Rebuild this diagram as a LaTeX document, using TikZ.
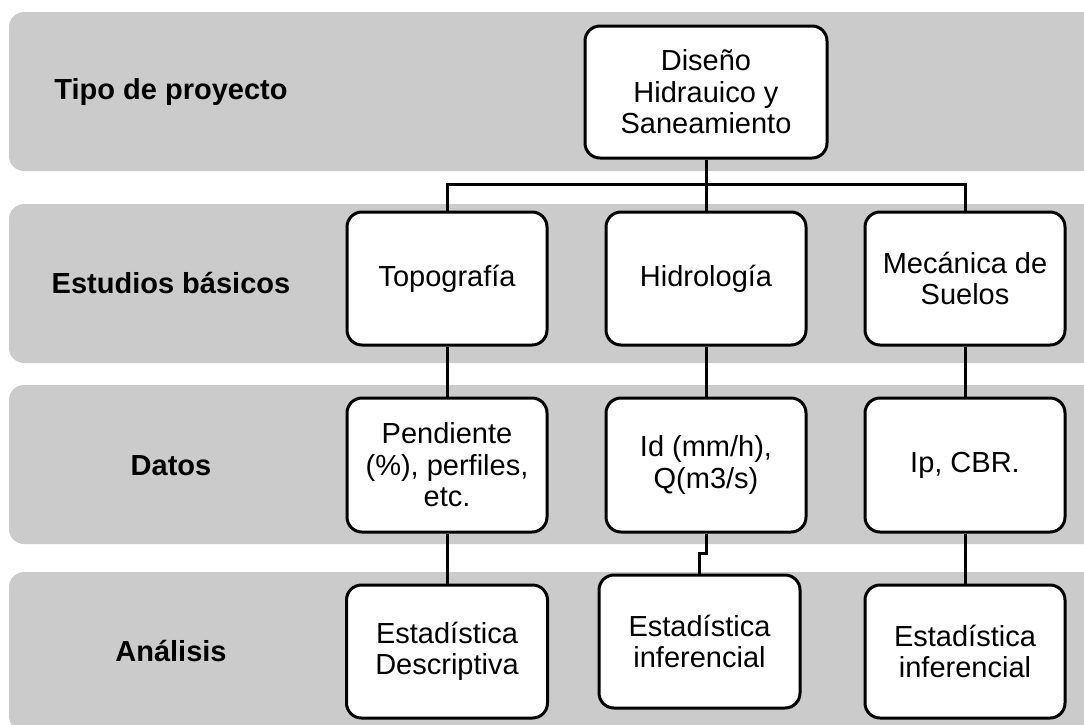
\documentclass[tikz,border=0pt]{standalone}
\usepackage{fontspec}
\setmainfont{Liberation Sans}
\definecolor{bandgray}{HTML}{CBCBCB}
\begin{document}
\begin{tikzpicture}[x=1pt,y=-1pt,
  band/.style={fill=bandgray,draw=none,rounded corners=15pt},
  rowlabel/.style={font=\fontsize{29}{33}\selectfont\bfseries,anchor=center},
  item/.style={draw=black,line width=3pt,fill=white,rounded corners=15pt,
    align=center,inner sep=4pt,font=\fontsize{29}{31.5}\selectfont},
  link/.style={draw=black,line width=3pt}]
  \useasboundingbox (0,0) rectangle (1084,724);
  \clip (0,0) rectangle (1084,724);

  % horizontal bands
  \fill[band] (9,12) rectangle (1110,171);
  \fill[band] (9,204) rectangle (1110,363);
  \fill[band] (9,385) rectangle (1110,544);
  \fill[band] (9,572) rectangle (1110,731);

  % row labels
  \node[rowlabel] (l1) at (171,92) {Tipo de proyecto};
  \node[rowlabel] (l2) at (171,283) {Estudios básicos};
  \node[rowlabel] (l3) at (171,466) {Datos};
  \node[rowlabel] (l4) at (171,651) {Análisis};

  % project type
  \node[item,minimum width=242pt,minimum height=132pt] (top) at (706,92)
    {Diseño\\Hidrauico y\\Saneamiento};

  % basic studies
  \node[item,minimum width=200pt,minimum height=133pt] (s1) at (447,278.5) {Topografía};
  \node[item,minimum width=200pt,minimum height=133pt] (s2) at (706,278.5) {Hidrología};
  \node[item,minimum width=200pt,minimum height=133pt] (s3) at (965,278.5) {Mecánica de\\Suelos};

  % data
  \node[item,minimum width=200pt,minimum height=134pt] (d1) at (447,465) {Pendiente\\(\%), perfiles,\\etc.};
  \node[item,minimum width=200pt,minimum height=134pt] (d2) at (706,465) {Id (mm/h),\\Q(m3/s)};
  \node[item,minimum width=200pt,minimum height=134pt] (d3) at (965,465) {Ip, CBR.};

  % analysis
  \node[item,minimum width=201pt,minimum height=133pt] (a1) at (447,651.5) {Estadística\\Descriptiva};
  \node[item,minimum width=201pt,minimum height=133pt] (a2) at (699.5,641.5) {Estadística\\inferencial};
  \node[item,minimum width=200pt,minimum height=133pt] (a3) at (965,651.5) {Estadística\\inferencial};

  % connectors
  \coordinate (bus) at (706,184);
  \draw[link] (top.south) -- (s2.north);
  \draw[link] (s1.north) |- (bus) -| (s3.north);
  \draw[link] (s1.south) -- (d1.north);
  \draw[link] (s2.south) -- (d2.north);
  \draw[link] (s3.south) -- (d3.north);
  \draw[link] (d1.south) -- (a1.north);
  \coordinate (step2) at (706,553);
  \draw[link] (d2.south) -- (step2) -| (a2.north);
  \draw[link] (d3.south) -- (a3.north);
\end{tikzpicture}
\end{document}
